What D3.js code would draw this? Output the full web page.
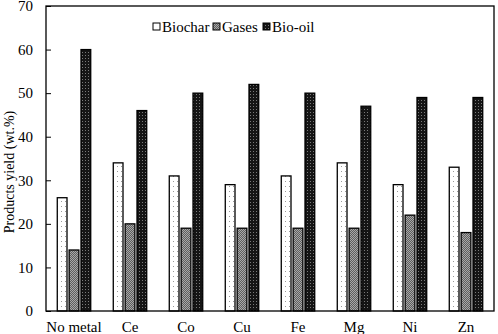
<!DOCTYPE html>
<html>
<head>
<meta charset="utf-8">
<script src="https://cdn.jsdelivr.net/npm/d3@7"></script>
<style>
body { margin: 0; background: #fff; }
svg text { font-family: "Liberation Serif", "Times New Roman", serif; fill: #000; }
</style>
</head>
<body>
<script>
// product yields per metal
var categories = ["No metal", "Ce", "Co", "Cu", "Fe", "Mg", "Ni", "Zn"];
var seriesNames = ["Biochar", "Gases", "Bio-oil"];
var biochar = [26, 34, 31, 29, 31, 34, 29, 33];
var gases = [14, 20, 19, 19, 19, 19, 22, 18];
var bioOil = [60, 46, 50, 52, 50, 47, 49, 49];
var yTicks = [0, 10, 20, 30, 40, 50, 60, 70];

var W = 498, H = 334;
var margin = { top: 6, right: 4, bottom: 23, left: 46 };
var serif = "'Liberation Serif', 'Times New Roman', serif";

var svg = d3.select(document.body).append("svg")
    .attr("width", W).attr("height", H);

var defs = svg.append("defs");
// sparse dots on white
var p1 = defs.append("pattern").attr("id", "pBiochar")
    .attr("patternUnits", "userSpaceOnUse").attr("width", 4).attr("height", 5);
p1.append("rect").attr("width", 4).attr("height", 5).attr("fill", "#fff");
p1.append("rect").attr("x", 1).attr("y", 1).attr("width", 1).attr("height", 1).attr("fill", "#999");
// grey checker
var p2 = defs.append("pattern").attr("id", "pGases")
    .attr("patternUnits", "userSpaceOnUse").attr("width", 2).attr("height", 2);
p2.append("rect").attr("width", 2).attr("height", 2).attr("fill", "#5e5e5e");
p2.append("rect").attr("width", 1).attr("height", 1).attr("fill", "#a8a8a8");
p2.append("rect").attr("x", 1).attr("y", 1).attr("width", 1).attr("height", 1).attr("fill", "#a8a8a8");
// dark with light dots
var p3 = defs.append("pattern").attr("id", "pOil")
    .attr("patternUnits", "userSpaceOnUse").attr("width", 3).attr("height", 3);
p3.append("rect").attr("width", 3).attr("height", 3).attr("fill", "#151515");
p3.append("rect").attr("x", 1).attr("y", 1).attr("width", 1).attr("height", 1).attr("fill", "#7a7a7a");

var fills = ["url(#pBiochar)", "url(#pGases)", "url(#pOil)"];
var legendFills = ["#fff", "url(#pGases)", "url(#pOil)"];
var values = [biochar, gases, bioOil];

var x = d3.scaleBand().domain(categories)
    .range([margin.left, W - margin.right]).paddingInner(0).paddingOuter(0);
var x1 = d3.scaleBand().domain(seriesNames)
    .range([0, x.bandwidth()]).paddingInner(0.18).paddingOuter(0.95);
var y = d3.scaleLinear().domain([0, 70]).range([H - margin.bottom, margin.top]);

var g = svg.append("g");
categories.forEach(function (c, i) {
  seriesNames.forEach(function (s, j) {
    g.append("rect")
      .attr("x", x(c) + x1(s))
      .attr("y", y(values[j][i]))
      .attr("width", x1.bandwidth())
      .attr("height", y(0) - y(values[j][i]))
      .attr("fill", fills[j])
      .attr("stroke", "#000")
      .attr("stroke-width", 1.3);
  });
});

// frame
svg.append("rect")
  .attr("x", margin.left).attr("y", margin.top)
  .attr("width", W - margin.left - margin.right)
  .attr("height", H - margin.top - margin.bottom)
  .attr("fill", "none").attr("stroke", "#000").attr("stroke-width", 1.3);

var yAxis = svg.append("g")
  .attr("transform", "translate(" + margin.left + ",0)")
  .call(d3.axisLeft(y).tickValues(yTicks).tickSize(-5).tickPadding(13))
  .attr("font-family", serif).attr("font-size", 15);
yAxis.select(".domain").remove();

var xAxis = svg.append("g")
  .attr("transform", "translate(0," + (H - margin.bottom) + ")")
  .call(d3.axisBottom(x).tickSize(0).tickPadding(10))
  .attr("font-family", serif).attr("font-size", 15);
xAxis.select(".domain").remove();

svg.append("text")
  .attr("transform", "translate(9,172) rotate(-90)")
  .attr("text-anchor", "middle").attr("dy", "0.35em")
  .attr("font-family", serif).attr("font-size", 14)
  .text("Products yield (wt.%)");

// legend
var legendX = [153, 213, 263];
var lg = svg.append("g").attr("font-family", serif).attr("font-size", 15);
seriesNames.forEach(function (s, j) {
  lg.append("rect").attr("x", legendX[j]).attr("y", 23)
    .attr("width", 7).attr("height", 7)
    .attr("fill", legendFills[j]).attr("stroke", "#000").attr("stroke-width", 1);
  lg.append("text").attr("x", legendX[j] + 9).attr("y", 31.5).text(s);
});
</script>
</body>
</html>
